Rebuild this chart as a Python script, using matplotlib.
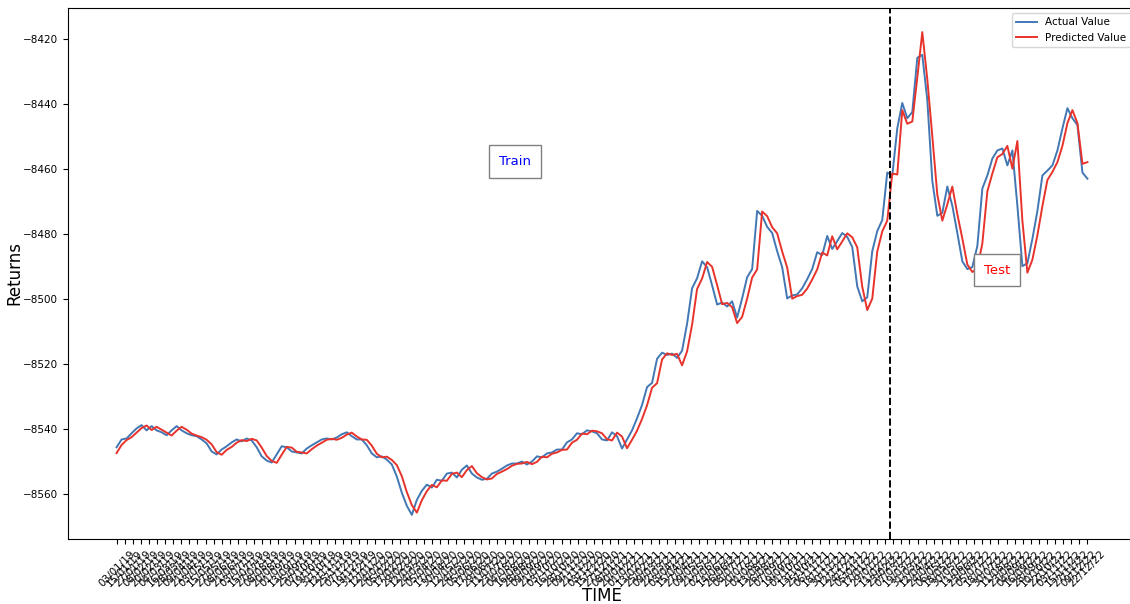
import numpy as np
import pandas as pd
import matplotlib
matplotlib.use('Agg')
import matplotlib.pyplot as plt

# actual and predicted returns, one value per step
actual = [
    -8545.7, -8543.3, -8543.0, -8541.4, -8539.9, -8538.9, -8540.5, -8539.2, -8540.5, -8541.1,
    -8542.0, -8540.5, -8539.2, -8540.5, -8541.4, -8542.0, -8542.3, -8543.3, -8544.5, -8547.0,
    -8547.9, -8546.4, -8545.4, -8544.2, -8543.3, -8543.9, -8543.0, -8543.6, -8545.7, -8548.5,
    -8549.8, -8550.4, -8547.9, -8545.4, -8545.7, -8547.0, -8547.3, -8547.6, -8546.1, -8545.1,
    -8544.2, -8543.3, -8543.0, -8543.3, -8542.7, -8541.7, -8541.1, -8542.3, -8543.3, -8543.3,
    -8545.1, -8547.6, -8548.8, -8548.5, -8549.5, -8551.0, -8554.7, -8559.7, -8563.7, -8566.5,
    -8561.9, -8559.1, -8557.2, -8558.1, -8555.7, -8556.0, -8553.8, -8553.5, -8555.0, -8552.6,
    -8551.3, -8553.8, -8555.0, -8555.7, -8555.4, -8553.8, -8553.2, -8552.3, -8551.3, -8550.7,
    -8550.7, -8550.1, -8551.0, -8550.1, -8548.5, -8548.8, -8547.6, -8547.3, -8546.4, -8546.4,
    -8544.2, -8543.3, -8541.4, -8541.7, -8540.5, -8540.8, -8541.4, -8543.3, -8543.6, -8541.1,
    -8542.3, -8546.1, -8543.3, -8540.5, -8536.8, -8532.7, -8527.2, -8525.9, -8518.5, -8516.6,
    -8517.3, -8516.9, -8518.2, -8516.0, -8507.7, -8496.8, -8493.7, -8488.5, -8490.3, -8495.9,
    -8501.8, -8501.2, -8502.4, -8500.8, -8505.8, -8499.9, -8493.4, -8490.9, -8473.0, -8474.5,
    -8477.9, -8479.8, -8485.4, -8490.3, -8499.9, -8499.0, -8498.7, -8496.8, -8494.0, -8490.9,
    -8485.7, -8486.6, -8480.7, -8484.7, -8482.3, -8479.8, -8481.0, -8484.1, -8496.2, -8500.8,
    -8499.6, -8485.4, -8479.2, -8475.8, -8461.2, -8462.1, -8447.6, -8439.8, -8444.5, -8442.6,
    -8425.9, -8425.0, -8438.9, -8463.7, -8474.5, -8473.6, -8465.5, -8471.4, -8479.8, -8488.5,
    -8490.9, -8490.3, -8483.8, -8466.1, -8462.1, -8456.9, -8454.4, -8453.8, -8459.0, -8454.4,
    -8471.4, -8490.0, -8489.1, -8481.6, -8473.0, -8462.1, -8460.6, -8459.0, -8454.4, -8447.6,
    -8441.4, -8444.5, -8446.6, -8461.2, -8463.1,
]

predicted = [
    -8547.5, -8545.0, -8543.5, -8542.6, -8541.2, -8539.8, -8539.0, -8540.4, -8539.4, -8540.3,
    -8541.2, -8542.1, -8540.6, -8539.4, -8540.3, -8541.5, -8542.1, -8542.6, -8543.4, -8544.8,
    -8547.2, -8548.0, -8546.5, -8545.6, -8544.3, -8543.5, -8543.8, -8543.1, -8543.6, -8545.8,
    -8548.4, -8549.9, -8550.5, -8548.0, -8545.6, -8545.8, -8547.1, -8547.3, -8547.6, -8546.3,
    -8545.2, -8544.3, -8543.4, -8543.1, -8543.4, -8542.8, -8541.8, -8541.2, -8542.4, -8543.3,
    -8543.4, -8545.2, -8547.7, -8548.8, -8548.6, -8549.6, -8551.2, -8554.6, -8559.5, -8563.5,
    -8565.8, -8562.0, -8559.2, -8557.3, -8558.0, -8555.9, -8556.0, -8553.9, -8553.5, -8554.9,
    -8552.7, -8551.5, -8553.7, -8554.9, -8555.6, -8555.3, -8553.9, -8553.2, -8552.4, -8551.4,
    -8550.8, -8550.7, -8550.2, -8550.9, -8550.2, -8548.6, -8548.8, -8547.7, -8547.3, -8546.5,
    -8546.4, -8544.3, -8543.4, -8541.5, -8541.7, -8540.6, -8540.8, -8541.4, -8543.2, -8543.6,
    -8541.2, -8542.4, -8546.0, -8543.4, -8540.6, -8537.0, -8532.8, -8527.4, -8526.0, -8518.7,
    -8516.8, -8517.3, -8517.0, -8520.5, -8516.2, -8508.0, -8497.0, -8493.8, -8488.7, -8490.2,
    -8495.8, -8501.7, -8501.3, -8502.6, -8507.5, -8505.6, -8500.0, -8493.5, -8491.0, -8473.2,
    -8474.6, -8478.0, -8479.9, -8485.5, -8490.4, -8500.0, -8499.2, -8498.8, -8496.9, -8494.1,
    -8491.0, -8485.8, -8486.7, -8480.8, -8484.8, -8482.4, -8479.9, -8481.1, -8484.2, -8496.3,
    -8503.5, -8500.0, -8485.5, -8479.3, -8476.0, -8461.5, -8461.8, -8442.0, -8446.2, -8445.5,
    -8432.0, -8418.0, -8432.5, -8450.0, -8468.0, -8476.0, -8471.0, -8465.5, -8474.0, -8481.5,
    -8489.5, -8491.8, -8490.6, -8483.0, -8467.0, -8461.5, -8456.5, -8455.5, -8453.0, -8460.0,
    -8451.5, -8476.0, -8492.0, -8488.0, -8480.5, -8471.5, -8463.5, -8461.0, -8458.0, -8453.0,
    -8446.0, -8442.0, -8446.0, -8458.5, -8458.0,
]

# date labels along the x axis
tick_dates = pd.date_range('2019-01-03', '2022-12-22', periods=121).strftime('%d/%m/%y')
split_step = 154.6

x = np.arange(len(actual))

fig = plt.figure(figsize=(11.3, 6.04), dpi=100)
# right edge runs slightly past the canvas, legend box gets clipped there
ax = fig.add_axes([0.0602, 0.1076, 0.9451, 0.8792])

ax.plot(x, actual, color='#4277b4', lw=1.4, label='Actual Value')
ax.plot(x, predicted, color='#e8332c', lw=1.4, label='Predicted Value')
ax.axvline(split_step, color='black', ls='--', lw=1.4)

box = dict(boxstyle='square,pad=0.75', facecolor='white', edgecolor='grey')
ax.text(79.6, -8457.8, 'Train', color='blue', fontsize=9.5, ha='center', va='center', bbox=box)
ax.text(176, -8491.2, 'Test', color='red', fontsize=9.5, ha='center', va='center', bbox=box)

ax.set_xticks(np.linspace(0, len(actual) - 1, len(tick_dates)))
ax.set_xticklabels(tick_dates, rotation=45, fontsize=7.5)
ax.tick_params(axis='y', labelsize=7.5)
ax.set_xlabel('TIME', fontsize=12)
ax.set_ylabel('Returns', fontsize=12)
ax.xaxis.set_label_coords(0.5, -0.090)
ax.yaxis.set_label_coords(-0.042, 0.5)
ax.legend(loc='upper right', fontsize=7.5)

plt.savefig('out.png', dpi=100)
